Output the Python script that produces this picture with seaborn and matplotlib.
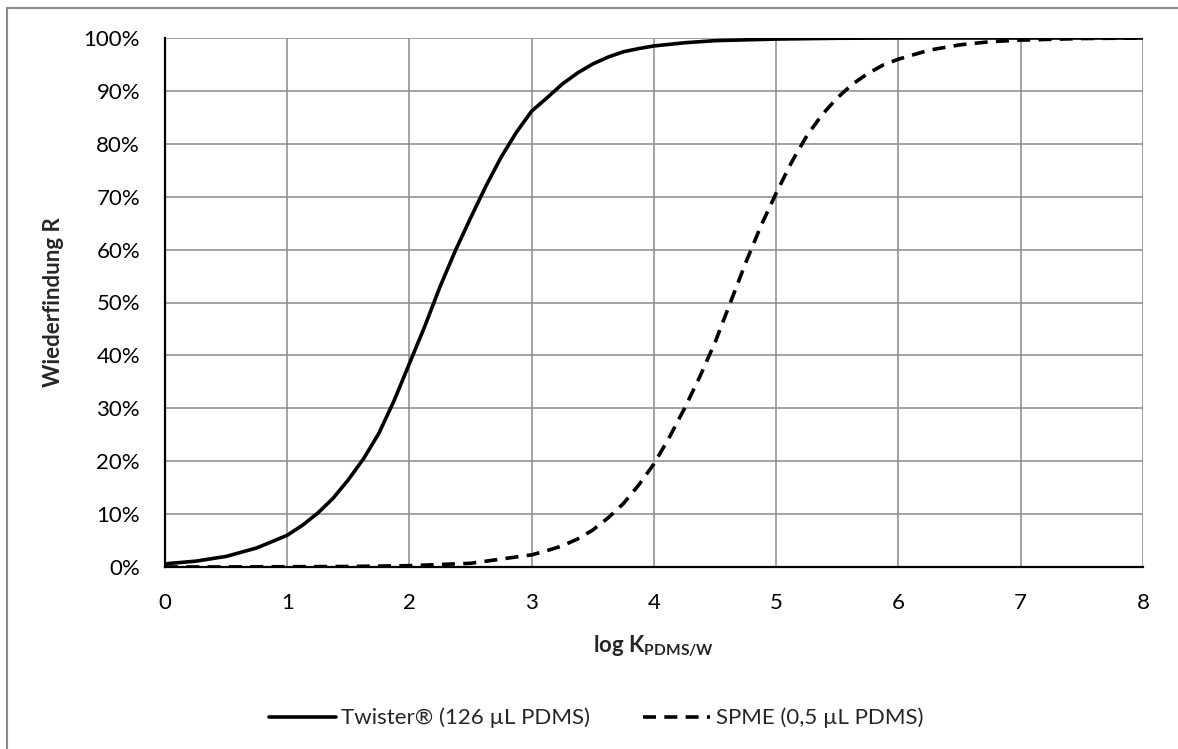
import numpy as np
import pandas as pd
import matplotlib
matplotlib.use("Agg")
import matplotlib.pyplot as plt
import seaborn as sns
from matplotlib.patches import Rectangle
from matplotlib.ticker import PercentFormatter

# Recovery curves (values in %)
twister_x = [0, 0.25, 0.5, 0.75, 1, 1.125, 1.25, 1.375, 1.5, 1.625, 1.75, 1.875, 2,
             2.125, 2.25, 2.375, 2.5, 2.625, 2.75, 2.875, 3, 3.125, 3.25, 3.375,
             3.5, 3.625, 3.75, 3.875, 4, 4.25, 4.5, 5, 5.5, 6, 7, 8]
twister_r = [0.6, 1.1, 2.0, 3.6, 6.0, 7.9, 10.2, 13.0, 16.5, 20.5, 25.3, 31.5, 38.5,
             45.5, 53, 59.8, 66, 72, 77.5, 82.2, 86.2, 88.7, 91.3, 93.4,
             95.1, 96.4, 97.4, 98.0, 98.5, 99.1, 99.5, 99.8, 99.95, 100, 100, 100]

spme_x = [0, 0.5, 1, 1.5, 2, 2.5, 3, 3.125, 3.25, 3.375, 3.5, 3.625, 3.75, 3.875, 4,
          4.125, 4.25, 4.375, 4.5, 4.625, 4.75, 4.875, 5, 5.125, 5.25, 5.375, 5.5,
          5.625, 5.75, 5.875, 6, 6.25, 6.5, 6.75, 7, 7.5, 8]
spme_r = [0, 0.01, 0.05, 0.1, 0.25, 0.7, 2.3, 3.1, 4.0, 5.3, 7.0, 9.3, 12.0, 15.5, 19.5,
          24.5, 30, 36, 42.5, 50, 57.5, 64.5, 70.7, 76.5, 81.5, 85.5, 88.7,
          91.3, 93.3, 94.9, 96, 97.7, 98.7, 99.3, 99.6, 99.9, 100]

label_twister = "Twister® (126 µL PDMS)"
label_spme = "SPME (0,5 µL PDMS)"

df_tw = pd.DataFrame({"logK": twister_x, "R": twister_r})
df_sp = pd.DataFrame({"logK": spme_x, "R": spme_r})

sns.set_theme(style="white")
plt.rcParams["font.family"] = ["Lato", "DejaVu Sans"]
plt.rcParams["mathtext.fontset"] = "custom"
plt.rcParams["mathtext.rm"] = "Lato"
plt.rcParams["mathtext.bf"] = "Lato:bold"

fig = plt.figure(figsize=(11.78, 7.49), dpi=100)
ax = fig.add_axes([165 / 1178, 1 - 567 / 749, (1143 - 165) / 1178, (567 - 38) / 749])

# outer chart border (Excel chart area)
fig.add_artist(Rectangle((7 / 1178, -0.05), 1.1, 1 - 8 / 749 + 0.05,
                         transform=fig.transFigure, fill=False,
                         edgecolor="#8c8c8c", linewidth=1.5))

sns.lineplot(data=df_tw, x="logK", y="R", ax=ax, color="black", linewidth=2.6,
             label=label_twister, estimator=None, sort=False)
sns.lineplot(data=df_sp, x="logK", y="R", ax=ax, color="black", linewidth=2.6,
             linestyle=(0, (3.6, 2.3)), label=label_spme, estimator=None, sort=False)

ax.set_xlim(0, 8)
ax.set_ylim(0, 100)
ax.set_xticks(range(0, 9))
ax.set_yticks(range(0, 101, 10))
ax.yaxis.set_major_formatter(PercentFormatter(decimals=0))

ax.grid(True, color="#8a8a8a", linewidth=1.1)
ax.set_axisbelow(True)
for side in ["top", "right"]:
    ax.spines[side].set_visible(False)
for side in ["left", "bottom"]:
    ax.spines[side].set_color("black")
    ax.spines[side].set_linewidth(1.6)

ax.tick_params(axis="both", which="major", direction="out", length=6, width=1.6,
               color="black", labelsize=16, labelcolor="black")
ax.tick_params(axis="y", pad=12)
ax.tick_params(axis="x", pad=13)
for lab in ax.get_xticklabels() + ax.get_yticklabels():
    lab.set_clip_on(False)

ax.set_xlabel(r"log K$_{\mathbf{PDMS/W}}$", fontsize=16, fontweight="bold", labelpad=14)
ax.set_ylabel("Wiederfindung R", fontsize=16, fontweight="bold", labelpad=14)

handles, labels = ax.get_legend_handles_labels()
ax.get_legend().remove()
fig.legend(handles, labels, loc="center", bbox_to_anchor=(596 / 1178, 1 - 718 / 749),
           ncol=2, frameon=False, fontsize=16, handlelength=3.0, handletextpad=0.25,
           columnspacing=2.4)

fig.savefig("out.png", dpi=100, facecolor="white")
